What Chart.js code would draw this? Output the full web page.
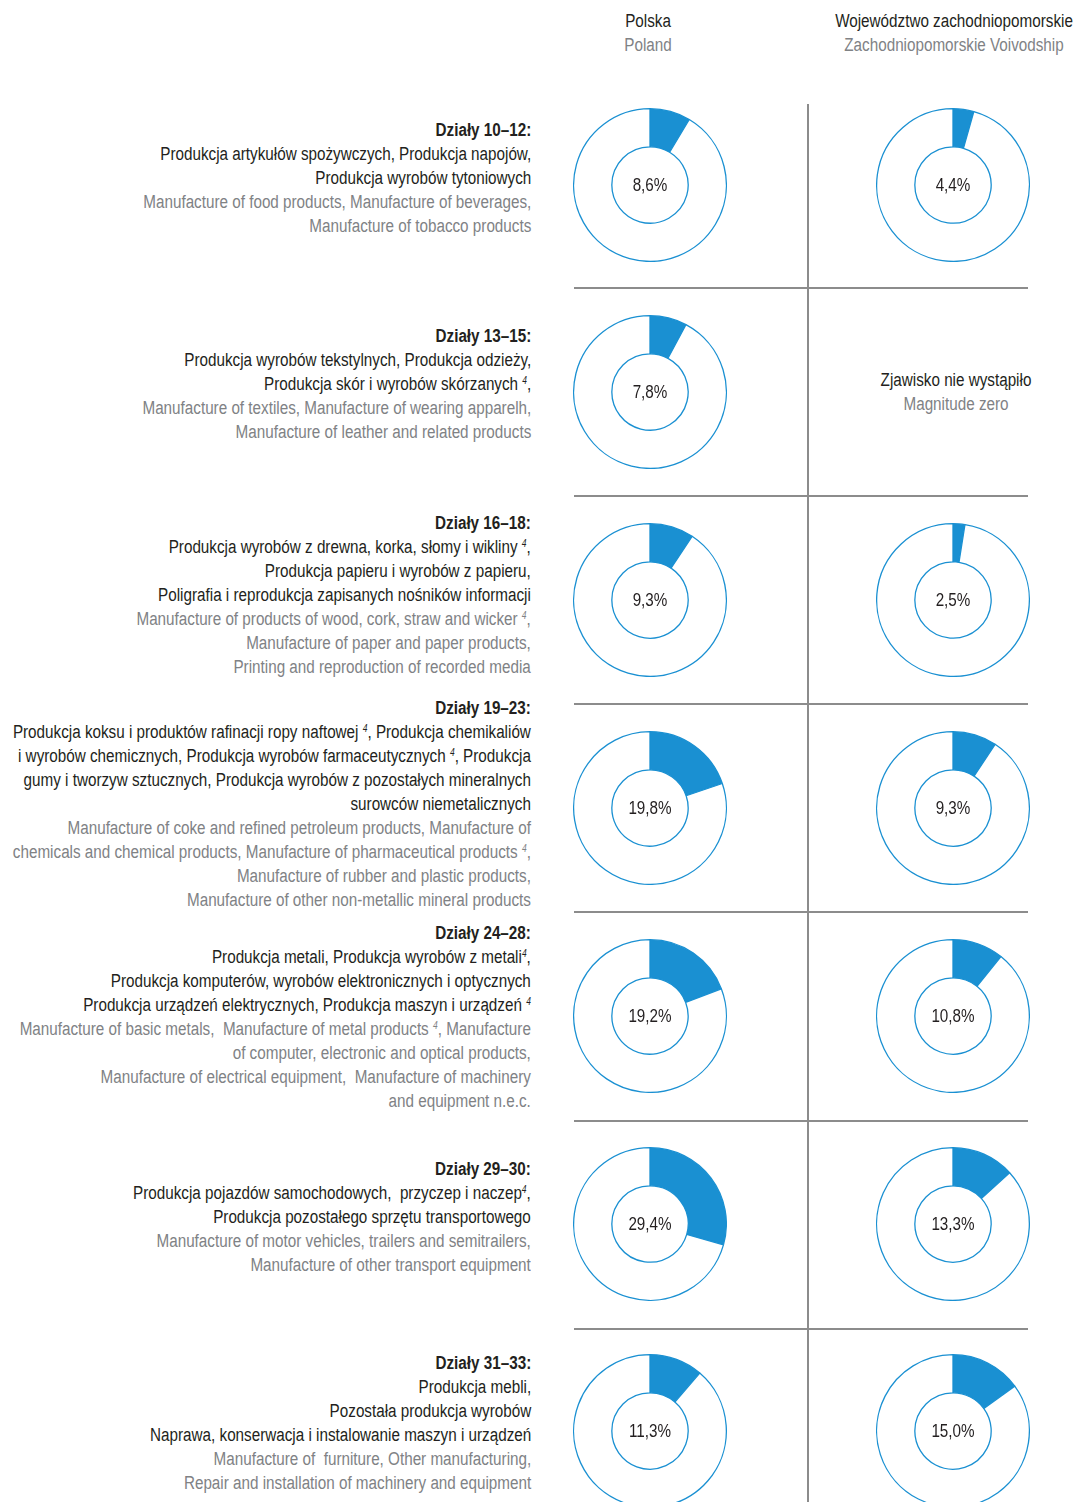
<!DOCTYPE html>
<html lang="pl">
<head>
    <meta charset="UTF-8">
    <title>Działy przetwórstwa przemysłowego</title>
    <script src="https://cdn.jsdelivr.net/npm/chart.js"></script>
    <style>
        body {
            margin: 0;
            background: #fff;
            font-family: "Liberation Sans", Arial, sans-serif;
            color: #231f20;
        }
        #page {
            position: relative;
            width: 1078px;
            height: 1502px;
            overflow: hidden;
        }
        .head, .none {
            position: absolute;
            text-align: center;
            font-size: 18px;
            line-height: 24px;
            white-space: nowrap;
            transform-origin: center top;
        }
        .head { top: 9px; }
        .en { color: #808285; }
        .block {
            position: absolute;
            right: 547px;
            text-align: right;
            font-size: 18px;
            line-height: 24px;
            white-space: nowrap;
            transform-origin: right top;
        }
        sup { font-size: 10px; font-style: italic; line-height: 0; vertical-align: 6px; }
        .donut {
            position: absolute;
            width: 154px;
            height: 154px;
        }
        .hline, .vline {
            position: absolute;
            background: #8c8c8c;
        }
    </style>
</head>
<body>
<div id="page">
    <div class="head" data-cx="648">Polska<br><span class="en">Poland</span></div>
    <div class="head" data-cx="954">Województwo zachodniopomorskie<br><span class="en">Zachodniopomorskie Voivodship</span></div>
</div>
<script>
    // groups of manufacturing divisions
    const groups = ['Działy 10–12:', 'Działy 13–15:', 'Działy 16–18:', 'Działy 19–23:',
        'Działy 24–28:', 'Działy 29–30:', 'Działy 31–33:'];

    const plLines = [
        ['Produkcja artykułów spożywczych, Produkcja napojów,', 'Produkcja wyrobów tytoniowych'],
        ['Produkcja wyrobów tekstylnych, Produkcja odzieży,', 'Produkcja skór i wyrobów skórzanych <sup>4</sup>,'],
        ['Produkcja wyrobów z drewna, korka, słomy i wikliny <sup>4</sup>,', 'Produkcja papieru i wyrobów z papieru,',
            'Poligrafia i reprodukcja zapisanych nośników informacji'],
        ['Produkcja koksu i produktów rafinacji ropy naftowej <sup>4</sup>, Produkcja chemikaliów',
            'i wyrobów chemicznych, Produkcja wyrobów farmaceutycznych <sup>4</sup>, Produkcja',
            'gumy i tworzyw sztucznych, Produkcja wyrobów z pozostałych mineralnych',
            'surowców niemetalicznych'],
        ['Produkcja metali, Produkcja wyrobów z metali<sup>4</sup>,',
            'Produkcja komputerów, wyrobów elektronicznych i optycznych',
            'Produkcja urządzeń elektrycznych, Produkcja maszyn i urządzeń <sup>4</sup>'],
        ['Produkcja pojazdów samochodowych,&nbsp; przyczep i naczep<sup>4</sup>,',
            'Produkcja pozostałego sprzętu transportowego'],
        ['Produkcja mebli,', 'Pozostała produkcja wyrobów', 'Naprawa, konserwacja i instalowanie maszyn i urządzeń']
    ];

    const enLines = [
        ['Manufacture of food products, Manufacture of beverages,', 'Manufacture of tobacco products'],
        ['Manufacture of textiles, Manufacture of wearing apparelh,', 'Manufacture of leather and related products'],
        ['Manufacture of products of wood, cork, straw and wicker <sup>4</sup>,', 'Manufacture of paper and paper products,',
            'Printing and reproduction of recorded media'],
        ['Manufacture of coke and refined petroleum products, Manufacture of',
            'chemicals and chemical products, Manufacture of pharmaceutical products <sup>4</sup>,',
            'Manufacture of rubber and plastic products,', 'Manufacture of other non-metallic mineral products'],
        ['Manufacture of basic metals,&nbsp; Manufacture of metal products <sup>4</sup>, Manufacture',
            'of computer, electronic and optical products,',
            'Manufacture of electrical equipment,&nbsp; Manufacture of machinery', 'and equipment n.e.c.'],
        ['Manufacture of motor vehicles, trailers and semitrailers,', 'Manufacture of other transport equipment'],
        ['Manufacture of&nbsp; furniture, Other manufacturing,', 'Repair and installation of machinery and equipment']
    ];

    // share of each division group, %
    const polandShares = [8.6, 7.8, 9.3, 19.8, 19.2, 29.4, 11.3];
    const regionShares = [4.4, null, 2.5, 9.3, 10.8, 13.3, 15.0];

    // layout
    const titleY = [130, 336, 523, 708, 933, 1169, 1363];
    const rowY = [185, 392, 600, 808, 1016, 1224, 1431];
    const sepY = [287, 495, 703, 911, 1120, 1328];
    const colX = [650, 953];
    const R = 77;
    const blue = '#1a90d2';

    const page = document.getElementById('page');

    // condensed look: squeeze the installed font to the reference line width
    const probe = document.createElement('span');
    probe.style.cssText = 'position:absolute;visibility:hidden;font-size:18px;white-space:nowrap';
    probe.textContent = 'Produkcja artykułów spożywczych, Produkcja napojów,';
    page.appendChild(probe);
    const K = 371 / probe.getBoundingClientRect().width;
    probe.remove();

    document.querySelectorAll('.head').forEach(h => {
        h.style.left = h.dataset.cx + 'px';
        h.style.transform = `translateX(-50%) scaleX(${K})`;
    });

    // grid lines
    const v = document.createElement('div');
    v.className = 'vline';
    v.style.cssText = 'left:807px;top:104px;width:1.5px;height:1400px';
    page.appendChild(v);
    sepY.forEach(y => {
        const h = document.createElement('div');
        h.className = 'hline';
        h.style.cssText = `left:574px;top:${y}px;width:454px;height:1.5px`;
        page.appendChild(h);
    });

    // text blocks
    groups.forEach((g, i) => {
        const d = document.createElement('div');
        d.className = 'block';
        d.style.top = (titleY[i] - 12) + 'px';
        d.style.transform = `scaleX(${K})`;
        d.innerHTML = '<b>' + g + '</b><br>' + plLines[i].join('<br>') +
            '<br><span class="en">' + enLines[i].join('<br>') + '</span>';
        page.appendChild(d);
    });

    const centerLabel = {
        id: 'centerLabel',
        afterDraw(chart) {
            const arc = chart.getDatasetMeta(0).data[0];
            const ctx = chart.ctx;
            const val = chart.data.datasets[0].data[0];
            ctx.save();
            ctx.translate(arc.x, arc.y + 1);
            ctx.scale(K, 1);
            ctx.fillStyle = '#231f20';
            ctx.font = '18px "Liberation Sans", Arial, sans-serif';
            ctx.textAlign = 'center';
            ctx.textBaseline = 'middle';
            ctx.fillText(val.toFixed(1).replace('.', ',') + '%', 0, 0);
            ctx.restore();
        }
    };

    function donut(x, y, value) {
        const box = document.createElement('div');
        box.className = 'donut';
        box.style.left = (x - R) + 'px';
        box.style.top = (y - R) + 'px';
        const canvas = document.createElement('canvas');
        canvas.width = 2 * R;
        canvas.height = 2 * R;
        box.appendChild(canvas);
        page.appendChild(box);
        new Chart(canvas, {
            type: 'doughnut',
            data: {
                labels: ['udział', 'pozostałe'],
                datasets: [{
                    data: [value, 100 - value],
                    backgroundColor: [blue, '#ffffff'],
                    borderColor: blue,
                    borderWidth: 1.3
                }]
            },
            options: {
                responsive: false,
                animation: false,
                cutout: '50%',
                events: [],
                layout: { padding: 0 },
                plugins: { legend: { display: false }, tooltip: { enabled: false } }
            },
            plugins: [centerLabel]
        });
    }

    rowY.forEach((y, i) => {
        donut(colX[0], y, polandShares[i]);
        if (regionShares[i] !== null) {
            donut(colX[1], y, regionShares[i]);
        } else {
            const n = document.createElement('div');
            n.className = 'none';
            n.style.left = '956px';
            n.style.top = (y - 24) + 'px';
            n.style.transform = `translateX(-50%) scaleX(${K})`;
            n.innerHTML = 'Zjawisko nie wystąpiło<br><span class="en">Magnitude zero</span>';
            page.appendChild(n);
        }
    });
</script>
</body>
</html>
